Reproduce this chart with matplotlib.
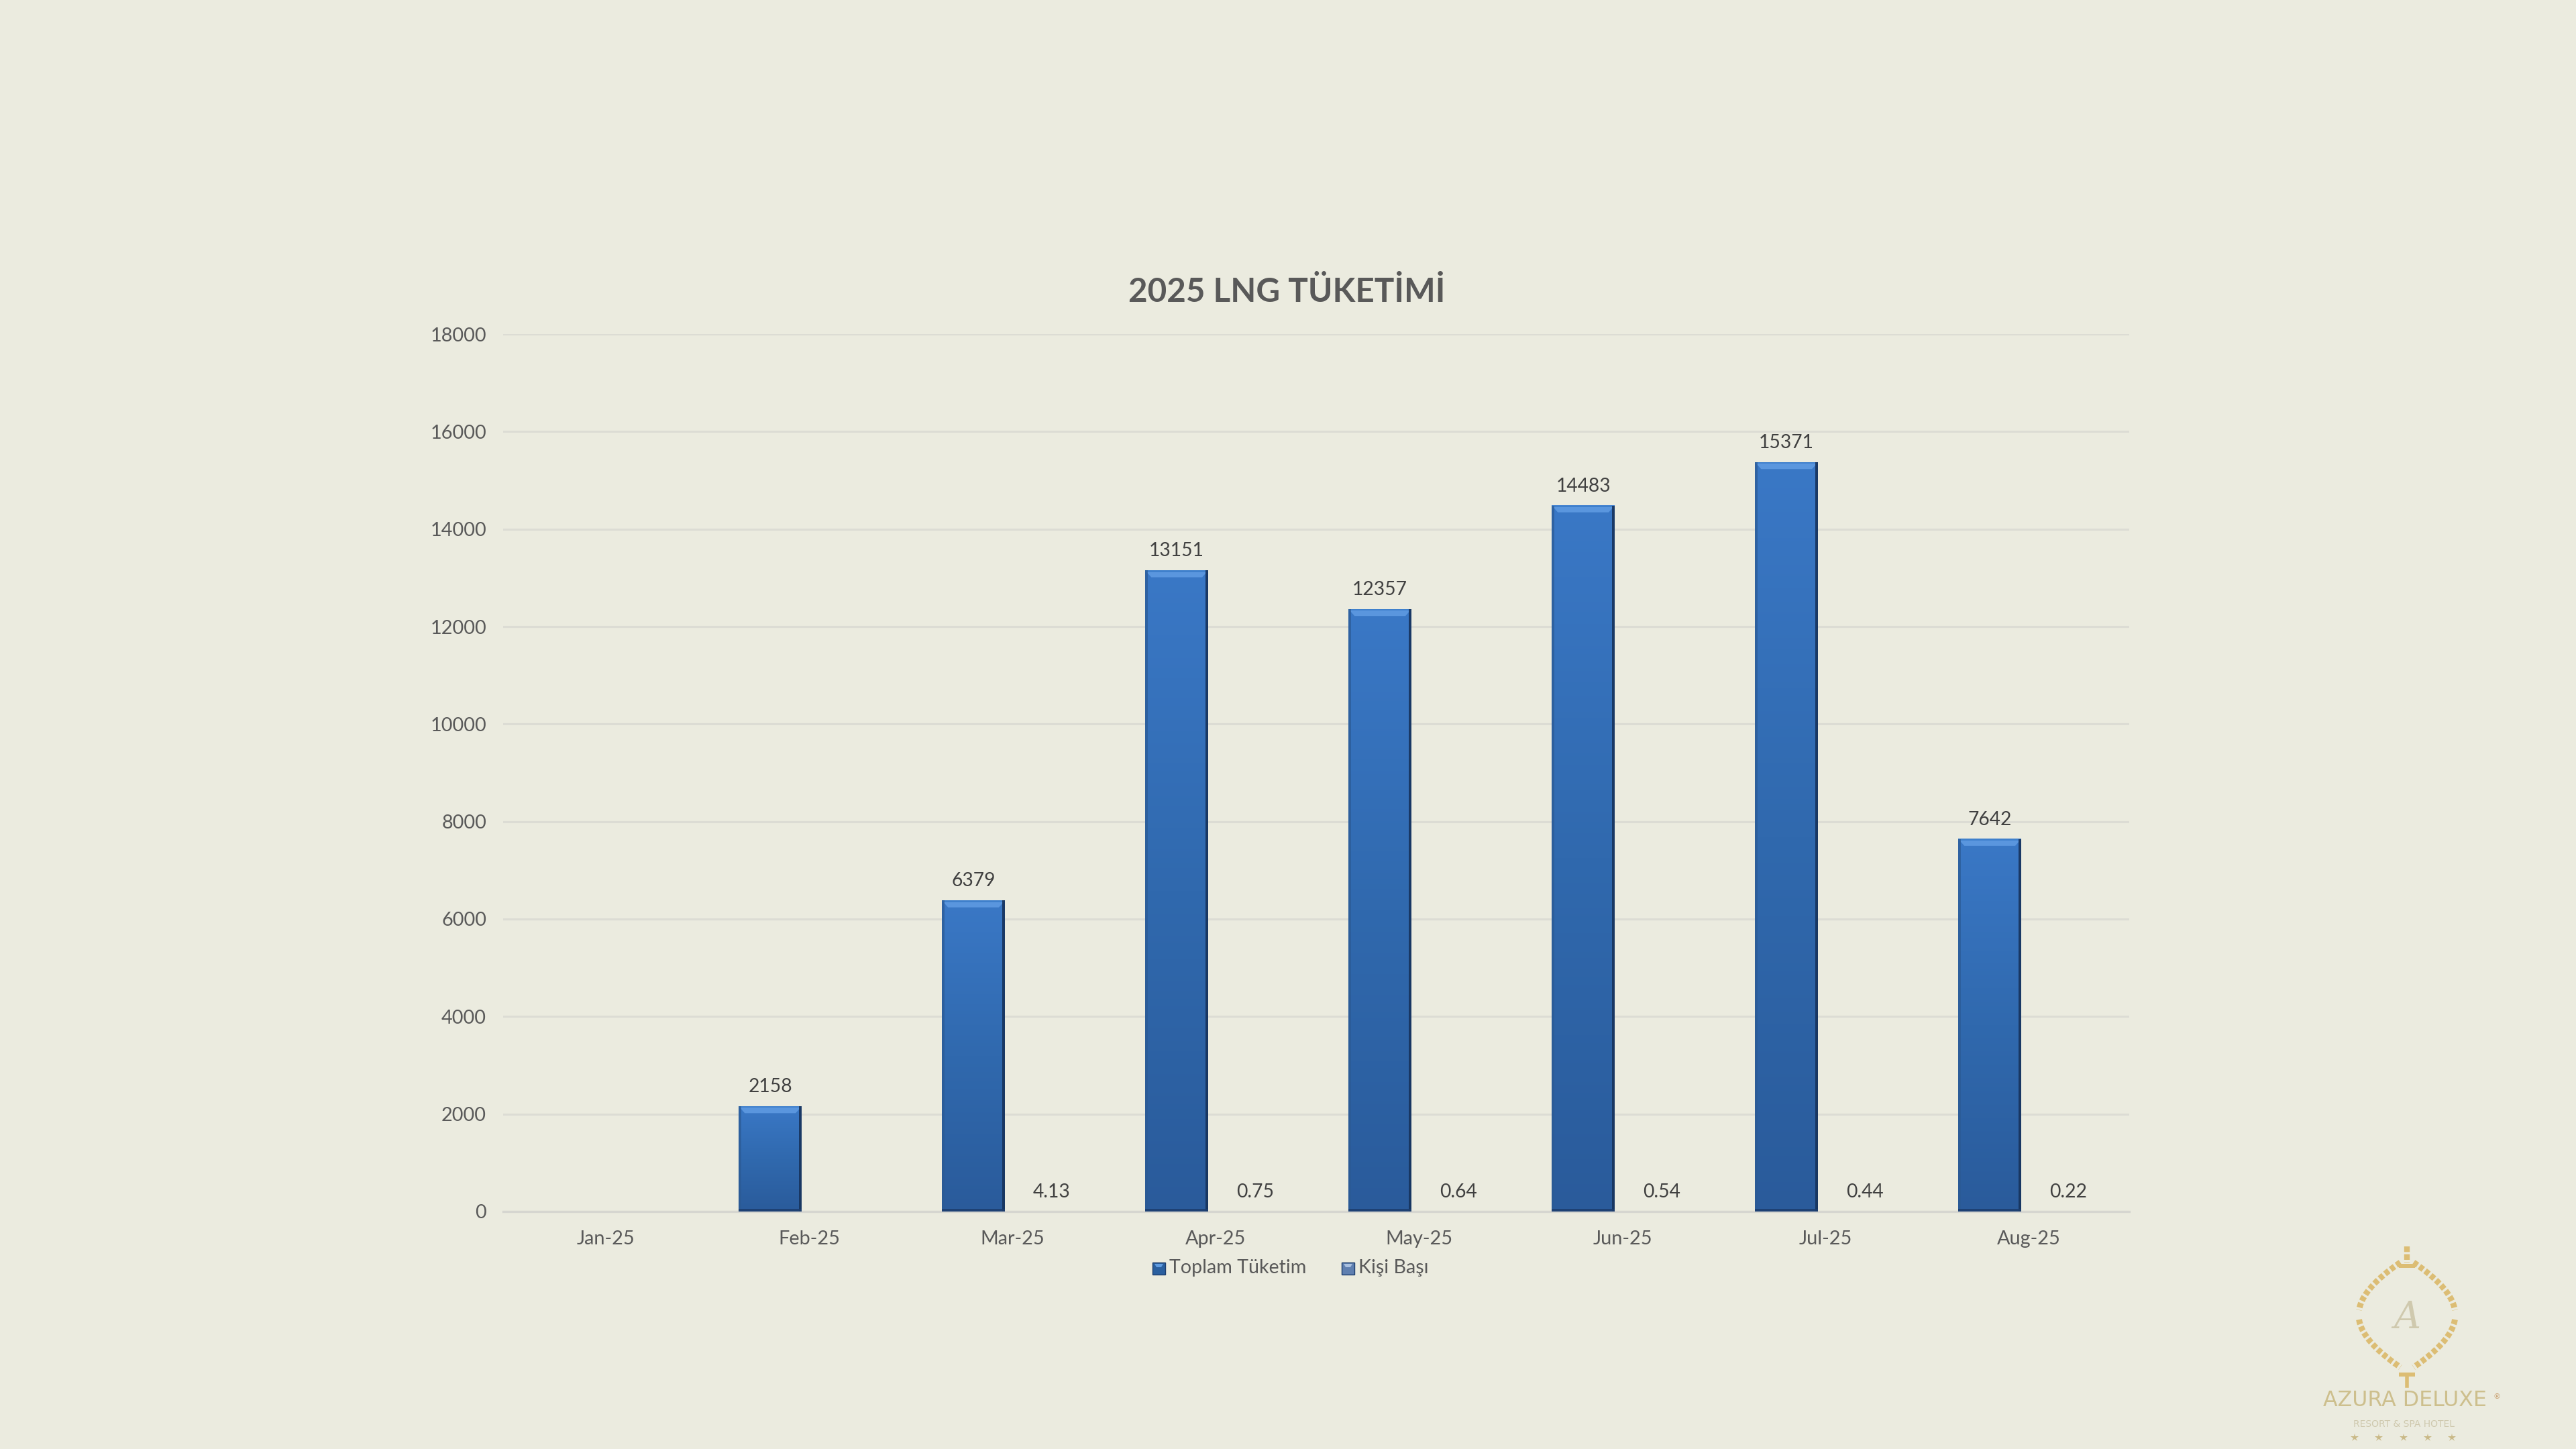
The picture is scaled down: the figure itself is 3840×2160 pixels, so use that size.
#!/usr/bin/env python3
import numpy as np
import matplotlib
matplotlib.use('Agg')
from matplotlib import pyplot as plt
from matplotlib.colors import LinearSegmentedColormap
from matplotlib.patches import Rectangle, Polygon
from matplotlib.transforms import ScaledTranslation

months = ['Jan-25', 'Feb-25', 'Mar-25', 'Apr-25', 'May-25', 'Jun-25', 'Jul-25', 'Aug-25']
toplam = [np.nan, 2158, 6379, 13151, 12357, 14483, 15371, 7642]
kisi_basi = [np.nan, np.nan, 4.13, 0.75, 0.64, 0.54, 0.44, 0.22]
yticks = list(range(0, 18001, 2000))
title = '2025 LNG TÜKETİMİ'
series_names = ['Toplam Tüketim', 'Kişi Başı']

plt.rcParams['font.family'] = ['Lato', 'DejaVu Sans']
bg = '#ebebdf'
W, H = 3840, 2160
fig = plt.figure(figsize=(W / 200, H / 200), dpi=200, facecolor=bg)
ax = fig.add_axes([750 / W, 1 - 1806 / H, (3174 - 750) / W, (1806 - 498) / H], facecolor=bg)

x = np.arange(len(months))
bw, off1, off2 = 0.31, 0.186, 0.199
bars = ax.bar(x - off1, np.nan_to_num(toplam), bw, color='none', zorder=3)
bars2 = ax.bar(x + off2, np.nan_to_num(kisi_basi), bw, color='#5f7fb5', zorder=3)

# vertical gradient, darker at the foot of each bar
cm = LinearSegmentedColormap.from_list('b', ['#3a78c6', '#3069ae', '#2a5b9b'])
hgrad = np.linspace(0, 1, 256).reshape(-1, 1)
ex = 0.012   # bevel width in category units
ey = 140     # top bevel height in data units
for b in bars:
    h = b.get_height()
    if h == 0:
        continue
    x0, w = b.get_x(), b.get_width()
    ax.imshow(hgrad, cmap=cm, aspect='auto', extent=(x0, x0 + w, 0, h), zorder=3)
    ax.add_patch(Polygon([(x0, h), (x0 + w, h), (x0 + w - 0.03, h - ey), (x0 + 0.03, h - ey)],
                         facecolor='#5a96de', lw=0, zorder=4))
    ax.add_patch(Rectangle((x0, h - 30), w, 30, color='#3f80cc', lw=0, zorder=4))
    ax.add_patch(Rectangle((x0, 0), ex, h, color='#2b5a94', lw=0, alpha=0.7, zorder=4))
    ax.add_patch(Rectangle((x0 + w - ex, 0), ex, h, color='#17335c', lw=0, alpha=0.9, zorder=4))
    ax.add_patch(Rectangle((x0, 0), w, 50, color='#1c3d6e', lw=0, alpha=0.85, zorder=4))
    ax.text(x0 + w / 2, h + 400, f'{h:.0f}', ha='center', va='center', fontsize=10.2, color='#404040', zorder=5)

for xi, v in zip(x, kisi_basi):
    if not np.isnan(v):
        ax.text(xi + off2, 400, f'{v:.2f}', ha='center', va='center', fontsize=10.2, color='#404040', zorder=5)

ax.set_xlim(-0.5, len(months) - 0.5)
ax.set_ylim(0, 18000)
ax.set_yticks(yticks)
ax.set_xticks(x)
ax.set_xticklabels(months)
ax.tick_params(length=0, labelsize=10.4, labelcolor='#595959')
ax.tick_params(axis='x', pad=10)
ax.tick_params(axis='y', pad=9)
shift = ScaledTranslation(2 / 200, 0, fig.dpi_scale_trans)
for lab in ax.get_xticklabels():
    lab.set_transform(lab.get_transform() + shift)
ax.grid(axis='y', color='#dcdcd4', lw=1.1, zorder=0)
for s in ['top', 'right', 'left']:
    ax.spines[s].set_visible(False)
ax.spines['bottom'].set_color('#d6d6d0')
ax.spines['bottom'].set_linewidth(1.2)

fig.text(1918 / W, 1 - 435 / H, title, ha='center', va='center', fontsize=17.8, fontweight='bold', color='#595959')

# legend
legend = [(1718, '#2a5f9f', '#5f9be0', series_names[0]), (2000, '#5f7fb0', '#a9c0e0', series_names[1])]
for px, col, lite, name in legend:
    fig.add_artist(Rectangle((px / W, 1 - 1900 / H), 19 / W, 18 / H, transform=fig.transFigure,
                             facecolor=col, edgecolor='#1c3d6e', lw=0.5))
    fig.add_artist(Polygon([((px + 3) / W, 1 - 1884 / H), ((px + 16) / W, 1 - 1884 / H),
                            ((px + 13) / W, 1 - 1889 / H), ((px + 6) / W, 1 - 1889 / H)],
                           transform=fig.transFigure, facecolor=lite, lw=0))
    fig.text((px + 25) / W, 1 - 1890 / H, name, ha='left', va='center', fontsize=10.3, color='#595959')

# logo, bottom right
gold = '#dcbd74'
cx, cy = 3588, 1960
s = np.linspace(-0.93, 0.93, 300)
w_s = 72 * np.sin(np.pi / 2 * (1 - np.abs(s))) ** 0.9
for side in (-1, 1):
    for mask in (s < -0.08, s > 0.08):
        fig.add_artist(plt.Line2D((cx + side * w_s[mask]) / W, 1 - (cy + 84 * s[mask]) / H, color=gold, lw=3.2,
                                  ls=(0, (0.8, 0.4)), transform=fig.transFigure))
fig.add_artist(Rectangle(((cx - 12) / W, 1 - 1890 / H), 24 / W, 6 / H, transform=fig.transFigure, facecolor=gold, lw=0))
fig.add_artist(Rectangle(((cx - 12) / W, 1 - 2052 / H), 24 / W, 6 / H, transform=fig.transFigure, facecolor=gold, lw=0))
fig.add_artist(plt.Line2D([cx / W] * 2, [1 - 1858 / H, 1 - 1882 / H], color=gold, lw=3, ls=(0, (1, 0.4)), transform=fig.transFigure))
fig.add_artist(plt.Line2D([cx / W] * 2, [1 - 2052 / H, 1 - 2066 / H], color=gold, lw=2, transform=fig.transFigure))
fig.text(cx / W, 1 - 1965 / H, 'A', ha='center', va='center', fontsize=20, style='italic', color='#cfc9ae', family='DejaVu Serif')
fig.text(3585 / W, 1 - 2087 / H, 'AZURA DELUXE', ha='center', va='center', fontsize=11.4, color='#cdbf8d', family='DejaVu Sans')
fig.text(3722 / W, 1 - 2082 / H, '®', ha='center', va='center', fontsize=4, color='#c9a070', family='DejaVu Sans')
fig.text(3583 / W, 1 - 2123 / H, 'RESORT & SPA HOTEL', ha='center', va='center', fontsize=5, color='#cfc9ae', family='DejaVu Sans')
star_x = np.linspace(3510, 3655, 5)
fig.add_artist(plt.Line2D(star_x / W, [1 - 2143 / H] * 5, ls='none', marker='*', ms=4.6, color='#c9b987', mew=0, transform=fig.transFigure))

fig.savefig('out.png', dpi=200, facecolor=bg)
